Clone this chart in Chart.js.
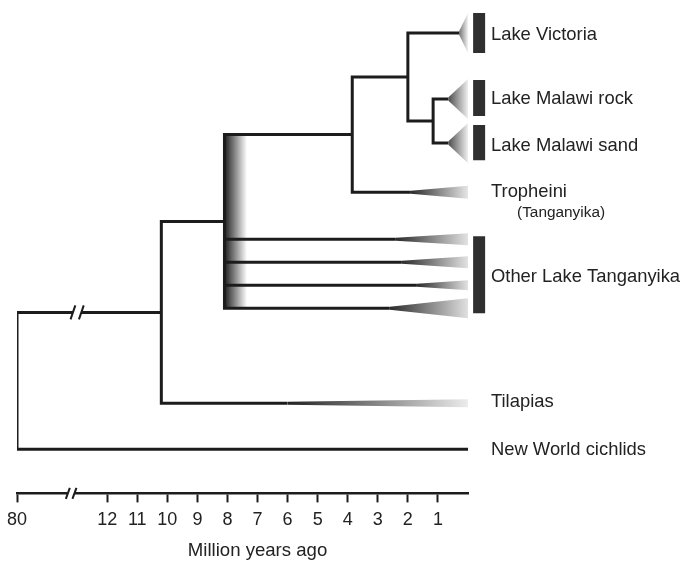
<!DOCTYPE html>
<html><head><meta charset="utf-8">
<script src="https://cdn.jsdelivr.net/npm/chart.js@4.4.0/dist/chart.umd.min.js"></script>
<style>html,body{margin:0;padding:0;background:#fff;}canvas{display:block;}</style>
</head><body>
<canvas id="c" width="683" height="561"></canvas>
<script>
// ---------------- data ----------------
// tips of the tree (top to bottom)
const tipNames   = ['Lake Victoria','Lake Malawi rock','Lake Malawi sand','Tropheini',
                    'Tanganyika A','Tanganyika B','Tanganyika C','Tanganyika D','Tilapias','New World cichlids'];
const tipRows    = [33, 99, 143, 192, 239, 262, 285, 308, 403, 449];       // vertical order (layout units)
const cladeStart = [0.3, 0.66, 0.66, 1.9, 2.4, 2.2, 1.7, 2.6, 6.0, 0];    // Ma where the clade wedge begins
const cladeSpread= [20, 20, 20, 6.5, 6, 6, 5, 10, 4, 0];                  // wedge half-height at present
// internal nodes: age (Ma) and children (tip index, or 'n'+node index)
const nodeAges     = [1.16, 2.0, 3.85, 8.1, 10.2, 80];
const nodeChildren = [[1,2], [0,'n0'], ['n1',3], ['n2',4,5,6,7], ['n3',8], ['n4',9]];
// lake groups (black bars)
const groupTop    = [13, 80, 125, 236];
const groupBottom = [53, 116, 160, 313];
// labels
const labelTexts = ['Lake Victoria','Lake Malawi rock','Lake Malawi sand','Tropheini','(Tanganyika)',
                    'Other Lake Tanganyika','Tilapias','New World cichlids'];
const labelRows  = [35, 99, 146, 192, 213, 277, 402, 450];
const labelSmall = [false,false,false,false,true,false,false,false];
// axis
const tickValues = [80,12,11,10,9,8,7,6,5,4,3,2,1];
const axisTitle  = 'Million years ago';

// ---------------- styles ----------------
const FONT = '"Liberation Sans", Arial, Helvetica, sans-serif';
const LINE = '#1c1c1c';
const TEXT = '#222222';
const BAR  = '#2f2f2f';
const apexShade = ['#727272','#4c4c4c','#4c4c4c','#2a2a2a','#2a2a2a','#2a2a2a','#2a2a2a','#2a2a2a','#222222'];
const baseShade = ['#f3f3f3','#efefef','#efefef','#e6e6e6','#e2e2e2','#e2e2e2','#e2e2e2','#e0e0e0','#ececec'];
const BREAK_AXIS = 13.2, BREAK_TREE = 13.0;   // positions of "//" marks in axis units
const BAR_X = -0.37, LABEL_X = -0.764, SMALL_INDENT = -1.63, TITLE_X = 7;
const BAND_W = 0.75;

// map Ma to axis units (broken axis: 80 Ma sits just left of the break)
function toAxis(ma){ return ma > 12 ? 15 : ma; }

function rowOf(ch){ return typeof ch === 'number' ? tipRows[ch] : nodeRow(+ch.slice(1)); }
function nodeRow(i){ const rs = nodeChildren[i].map(rowOf); return (Math.min(...rs)+Math.max(...rs))/2; }
function endOf(ch){ return typeof ch === 'number' ? cladeStart[ch] : toAxis(nodeAges[+ch.slice(1)]); }

function hGrad(chart, v0, v1, c0, c1){
  const {ctx, chartArea, scales} = chart;
  if (!chartArea) return c0;
  const g = ctx.createLinearGradient(scales.x.getPixelForValue(v0), 0, scales.x.getPixelForValue(v1), 0);
  g.addColorStop(0, c0); g.addColorStop(1, c1);
  return g;
}

const datasets = [];
function lineDs(points, extra){
  return Object.assign({data: points, borderColor: LINE, borderWidth: 3, borderCapStyle: 'butt',
                        borderJoinStyle: 'miter', fill: false, order: 0}, extra || {});
}
// branches
nodeAges.forEach((age, i) => {
  const kids = nodeChildren[i].slice().sort((a,b) => rowOf(a) - rowOf(b));
  const ax = toAxis(age);
  const f = kids[0], l = kids[kids.length-1];
  datasets.push(lineDs([{x:endOf(f),y:rowOf(f)},{x:ax,y:rowOf(f)},{x:ax,y:rowOf(l)},{x:endOf(l),y:rowOf(l)}]));
  kids.slice(1,-1).forEach(k => datasets.push(lineDs([{x:ax,y:rowOf(k)},{x:endOf(k),y:rowOf(k)}])));
  if (kids.length > 2) {
    // uncertainty band beside a polytomy
    const t = rowOf(f), b = rowOf(l);
    datasets.push({data:[{x:ax,y:t},{x:ax-BAND_W,y:t}], borderWidth:0, fill:false, order:3});
    datasets.push({data:[{x:ax,y:b},{x:ax-BAND_W,y:b}], borderWidth:0, fill:'-1', order:3,
      backgroundColor: c => hGrad(c.chart, ax, ax-BAND_W, '#1e1e1e', 'rgba(255,255,255,1)')});
  }
});
// clade wedges
tipRows.forEach((r, i) => {
  if (!cladeSpread[i]) return;
  const s = cladeStart[i], h = cladeSpread[i];
  datasets.push({data:[{x:s,y:r-1.5},{x:0,y:r-h}], borderWidth:0, fill:false, order:2});
  datasets.push({data:[{x:s,y:r+1.5},{x:0,y:r+h}], borderWidth:0, fill:'-1', order:2,
    backgroundColor: c => hGrad(c.chart, s, 0, apexShade[i], baseShade[i])});
});
// lake group bars
groupTop.forEach((t, i) => {
  datasets.push(lineDs([{x:BAR_X,y:t},{x:BAR_X,y:groupBottom[i]}], {borderColor:BAR, borderWidth:12, clip:false, order:1}));
});

const annot = {
  id: 'annot',
  afterDraw(chart){
    const {ctx, chartArea, scales:{x, y}} = chart;
    ctx.save();
    // axis break
    const ab = x.getPixelForValue(BREAK_AXIS), ay = chartArea.bottom;
    ctx.fillStyle = '#fff';
    ctx.fillRect(ab-3.5, ay-4, 7, 8);
    ctx.strokeStyle = LINE; ctx.lineWidth = 2;
    [-3.3, 3.3].forEach(d => { ctx.beginPath(); ctx.moveTo(ab+d-2, ay+5.5); ctx.lineTo(ab+d+2, ay-5.5); ctx.stroke(); });
    // tree break on the 80 Ma branch
    const tb = x.getPixelForValue(BREAK_TREE), ty = y.getPixelForValue(nodeRow(4));
    ctx.fillStyle = '#fff';
    ctx.fillRect(tb-4.2, ty-3, 8.4, 6);
    [-4.2, 4.2].forEach(d => { ctx.beginPath(); ctx.moveTo(tb+d-2.4, ty+7); ctx.lineTo(tb+d+2.4, ty-7); ctx.stroke(); });
    // labels
    ctx.fillStyle = TEXT; ctx.textBaseline = 'middle'; ctx.textAlign = 'left';
    labelTexts.forEach((t, i) => {
      ctx.font = (labelSmall[i] ? 15.4 : 18.4) + 'px ' + FONT;
      ctx.fillText(t, x.getPixelForValue(labelSmall[i] ? SMALL_INDENT : LABEL_X), y.getPixelForValue(labelRows[i]));
    });
    // axis title
    ctx.font = '18.6px ' + FONT; ctx.textAlign = 'center';
    ctx.fillText(axisTitle, x.getPixelForValue(TITLE_X), chartArea.bottom + 57);
    ctx.restore();
  }
};

new Chart(document.getElementById('c'), {
  type: 'line',
  data: { datasets },
  options: {
    responsive: false, animation: false, devicePixelRatio: 1,
    layout: { padding: { left: 16, right: 215, top: 0, bottom: 23 } },
    plugins: { legend: { display: false }, tooltip: { enabled: false } },
    elements: { point: { radius: 0, hoverRadius: 0 }, line: { tension: 0 } },
    scales: {
      x: {
        type: 'linear', min: 0, max: 15, reverse: true,
        afterBuildTicks: s => { s.ticks = tickValues.map(v => ({ value: toAxis(v) })); },
        ticks: {
          autoSkip: false, maxRotation: 0, padding: 7, color: TEXT,
          font: { family: FONT, size: 18 },
          callback: v => { const i = tickValues.findIndex(t => toAxis(t) === v); return i >= 0 ? String(tickValues[i]) : ''; }
        },
        grid: { drawOnChartArea: false, drawTicks: true, tickLength: 9, tickWidth: 2, tickColor: LINE },
        border: { display: true, color: LINE, width: 2.5 }
      },
      y: { type: 'linear', min: 0, max: 493, reverse: true, display: false }
    }
  },
  plugins: [annot]
});
</script>
</body></html>
